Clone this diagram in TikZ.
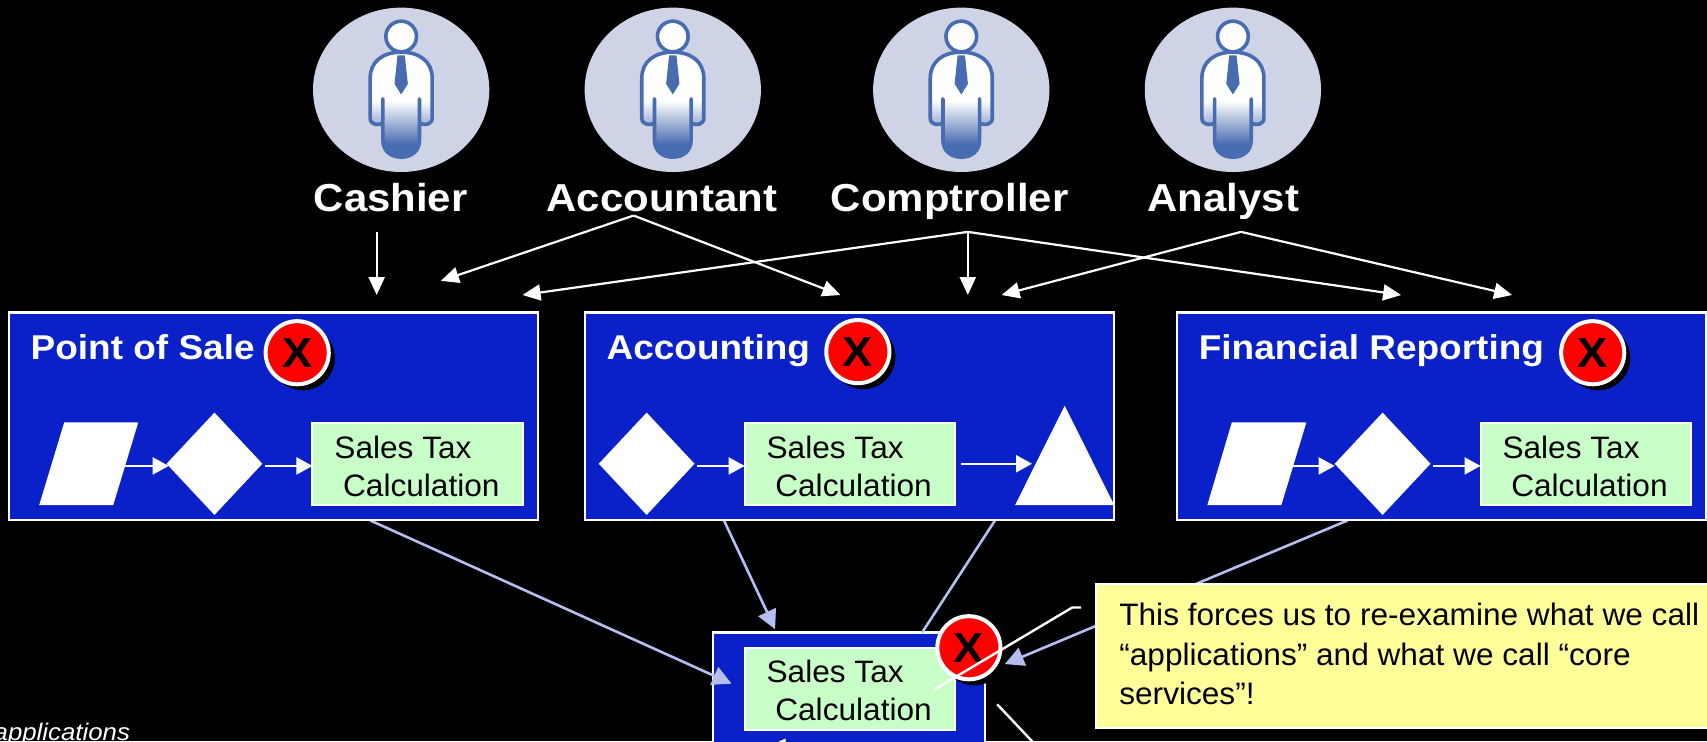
\documentclass[tikz,border=0pt]{standalone}
\usepackage{fontspec}
\setmainfont{Liberation Sans}
\usetikzlibrary{arrows.meta,shapes.geometric}
\definecolor{bluebox}{RGB}{10,32,200}
\definecolor{greenbox}{RGB}{200,255,200}
\definecolor{yelbox}{RGB}{255,255,153}
\definecolor{conn}{RGB}{182,190,240}
\definecolor{disc}{RGB}{206,211,229}
\definecolor{pblue}{RGB}{72,108,176}
\pgfdeclareverticalshading{psh}{100bp}{color(0bp)=(pblue); color(31bp)=(pblue); color(52bp)=(white); color(100bp)=(white)}
\tikzset{
  txt/.style={xscale=1.075,transform shape,inner sep=0pt,anchor=base west,align=left},
  bodytxt/.style={xscale=1.02,transform shape,inner sep=0pt,anchor=base west,align=left,text=black,font=\fontsize{31}{31}\selectfont},
  actortxt/.style={txt,text=white,font=\bfseries\fontsize{39}{39}\selectfont},
  titletxt/.style={txt,text=white,font=\bfseries\fontsize{34.4}{34.4}\selectfont},
  wline/.style={draw=white,line width=2.2pt,-{Triangle[length=18pt,width=16pt]}},
  bline/.style={draw=conn,line width=2.6pt,-{Triangle[length=19pt,width=19pt]}},
  bplain/.style={draw=conn,line width=2.6pt},
  wplain/.style={draw=white,line width=2.4pt},
  fline/.style={draw=white,line width=2.2pt,-{Triangle[length=16pt,width=17pt]}},
  bluerect/.style={fill=bluebox,draw=white,line width=2.2pt},
  greenrect/.style={fill=greenbox,draw=white,line width=2pt},
  flowshape/.style={fill=white,draw=none},
  discnode/.style={ellipse,fill=disc,draw=none,inner sep=0pt,minimum width=176.3pt,minimum height=164.4pt},
  pics/person/.style={code={
    \begin{scope}[x=0.3333pt,y=-0.3333pt]
      \path[shading=psh,draw=pblue,line width=3.6pt,line join=round]
        (0,-113) .. controls (55,-113) and (93,-85) .. (93,-35)
        -- (93,85) .. controls (93,105) and (70,108) .. (55,100)
        -- (55,27) -- (55,150) .. controls (55,185) and (30,202) .. (0,202)
        .. controls (-30,202) and (-55,185) .. (-55,150)
        -- (-55,27) -- (-55,100) .. controls (-70,108) and (-93,105) .. (-93,85)
        -- (-93,-35) .. controls (-93,-85) and (-55,-113) .. (0,-113) -- cycle;
      \path[fill=white,draw=pblue,line width=3.6pt] (0,-160) circle[radius=46];
      \path[fill=pblue] (-11,-103) -- (11,-103) -- (20,-18) -- (0,14) -- (-20,-18) -- cycle;
    \end{scope}
  }},
}
\begin{document}
\begin{tikzpicture}[x=1.08865pt,y=-1.08865pt]
\useasboundingbox (0,0) rectangle (1568,681);
\clip (0,0) rectangle (1568,681);
\fill[black] (0,0) rectangle (1568,681);

% actors
\foreach \n/\cx in {d1/368.5,d2/618,d3/883,d4/1132.5}{
  \node[discnode] (\n) at (\cx,82.5) {};
  \pic at (\cx,82.5) {person};
}
\node[actortxt] (lcash) at (288,194) {Cashier};
\node[actortxt] (lacct) at (502,194) {Accountant};
\node[actortxt] (lcomp) at (763,194) {Comptroller};
\node[actortxt] (lanal) at (1054,194) {Analyst};

% arrow end points
\coordinate (cs) at (346,213);\coordinate (ct) at (346,271);
\coordinate (as) at (582,198);\coordinate (at1) at (405,258);\coordinate (at2) at (772,271);
\coordinate (os) at (889,213);\coordinate (ot1) at (480,271);\coordinate (ot2) at (889,271);\coordinate (ot3) at (1287,271);
\coordinate (ns) at (1140,213);\coordinate (nt1) at (920,271);\coordinate (nt2) at (1389,271);
\draw[wline] (cs) -- (ct);
\draw[wline] (as) -- (at1);
\draw[wline] (as) -- (at2);
\draw[wline] (os) -- (ot1);
\draw[wline] (os) -- (ot2);
\draw[wline] (os) -- (ot3);
\draw[wline] (ns) -- (nt1);
\draw[wline] (ns) -- (nt2);

% connector ends
\coordinate (p1) at (340,478);\coordinate (p2) at (672,628);
\coordinate (a1) at (665,478);\coordinate (a2) at (712,578);
\coordinate (a3) at (914,478);\coordinate (a4) at (847,581);
\coordinate (f1) at (1238,478);\coordinate (f2) at (923,610);

% centre box
\draw[bluerect] (655,581) rectangle (905,700);
\draw[greenrect] (684,595) rectangle (877,671);
\node[bodytxt] (t4a) at (704,627) {Sales Tax};
\node[bodytxt] (t4b) at (712,662) {Calculation};
\coordinate (b1) at (770,686);\coordinate (b2) at (705,686);
\draw[wline] (b1) -- (b2);

\draw[bline] (p1) -- (p2);
\draw[bline] (a1) -- (a2);
\draw[bplain] (a3) -- (a4);
\draw[bline] (f1) -- (f2);

% Point of Sale
\draw[bluerect] (8,287) rectangle (494,478);
\node[titletxt] (pt) at (28,330) {Point of Sale};
\fill[flowshape] (59,388) -- (127,388) -- (104,464) -- (36,464) -- cycle;
\fill[flowshape] (197,379) -- (241,426) -- (197,473) -- (153,426) -- cycle;
\draw[greenrect] (287,389) rectangle (480,464);
\node[bodytxt] (t1a) at (307,421) {Sales Tax};
\node[bodytxt] (t1b) at (315,456) {Calculation};
\coordinate (pa1) at (115,428);\coordinate (pa2) at (155,428);\coordinate (pa3) at (243,428);\coordinate (pa4) at (287,428);
\draw[fline] (pa1) -- (pa2);
\draw[fline] (pa3) -- (pa4);

% Accounting
\draw[bluerect] (537,287) rectangle (1023,478);
\node[titletxt] (at) at (557,330) {Accounting};
\fill[flowshape] (594,379) -- (638,426) -- (594,473) -- (550,426) -- cycle;
\draw[greenrect] (684,389) rectangle (877,464);
\node[bodytxt] (t2a) at (704,421) {Sales Tax};
\node[bodytxt] (t2b) at (712,456) {Calculation};
\fill[flowshape] (932.4,464) -- (978,372.7) -- (1023.5,464) -- cycle;
\coordinate (aa1) at (640,428);\coordinate (aa2) at (684,428);\coordinate (aa3) at (883,426);\coordinate (aa4) at (948,426);
\draw[fline] (aa1) -- (aa2);
\draw[fline] (aa3) -- (aa4);

% Financial Reporting
\draw[bluerect] (1081,287) rectangle (1567,478);
\node[titletxt] (ft) at (1101,330) {Financial Reporting};
\fill[flowshape] (1131.5,388) -- (1200,388) -- (1177,464) -- (1109,464) -- cycle;
\fill[flowshape] (1270,379) -- (1314,426) -- (1270,473) -- (1226,426) -- cycle;
\draw[greenrect] (1360,389) rectangle (1553,464);
\node[bodytxt] (t3a) at (1380,421) {Sales Tax};
\node[bodytxt] (t3b) at (1388,456) {Calculation};
\coordinate (fa1) at (1187,428);\coordinate (fa2) at (1226,428);\coordinate (fa3) at (1316,428);\coordinate (fa4) at (1360,428);
\draw[fline] (fa1) -- (fa2);
\draw[fline] (fa3) -- (fa4);

% X badges
\foreach \n/\cx/\cy in {x1/273/324,x2/788/323,x3/1463/324,x4/890/595}{
  \fill[black] (\cx+5,\cy+5) circle[radius=29.5];
  \draw[fill=red,draw=white,line width=4pt] (\cx,\cy) circle[radius=29];
  \node[font=\bfseries\fontsize{42}{42}\selectfont,text=black,inner sep=0pt,xscale=1.075,transform shape] (\n) at (\cx,\cy) {X};
}

% yellow note
\draw[fill=yelbox,draw=white,line width=2pt] (1007,536) rectangle (1580,669);
\node[bodytxt] (n1) at (1028,575) {This forces us to re-examine what we call};
\node[bodytxt] (n2) at (1028,611) {“applications” and what we call “core};
\node[bodytxt] (n3) at (1028,647) {services”!};

% white callouts
\coordinate (w1) at (859,633);\coordinate (w2) at (985,558);\coordinate (w3) at (993,558);
\draw[wplain] (w1) -- (w2) -- (w3);
\coordinate (w4) at (916,647);\coordinate (w5) at (950,683);
\draw[wplain] (w4) -- (w5);

\node[txt,text=white,font=\itshape\fontsize{24}{24}\selectfont,xscale=1] (apps) at (-6,680) {applications};
\end{tikzpicture}
\end{document}
